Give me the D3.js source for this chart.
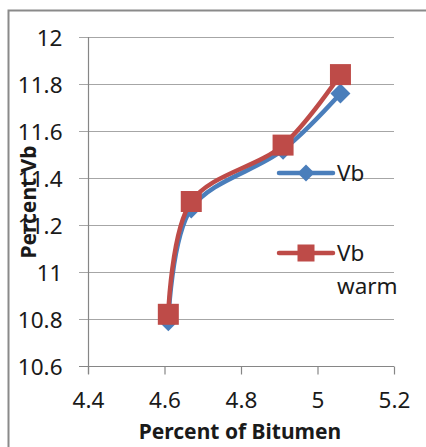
<!DOCTYPE html>
<html><head><meta charset="utf-8">
<script src="https://cdn.jsdelivr.net/npm/d3@7"></script>
<style>html,body{margin:0;padding:0;background:#fff;}svg{display:block;}</style>
</head><body>
<script>
const bitumen = [4.61, 4.67, 4.91, 5.06];
const vb = [10.79, 11.27, 11.52, 11.76];
const vbWarm = [10.82, 11.30, 11.54, 11.84];
const xTicks = [4.4, 4.6, 4.8, 5, 5.2];
const yTicks = [10.6, 10.8, 11, 11.2, 11.4, 11.6, 11.8, 12];
const seriesNames = ["Vb", "Vb warm"];

const W = 426, H = 447;
const svg = d3.select("body").append("svg").attr("width", W).attr("height", H);
const font = "'Noto Sans', 'Liberation Sans', sans-serif";

// outer border
svg.append("path").attr("d", `M8.5,${H} L8.5,10.5 L${W},10.5`).attr("fill","none").attr("stroke","#8a8a8a").attr("stroke-width",2);

const x = d3.scaleLinear().domain([4.4, 5.2]).range([88, 394]);
const y = d3.scaleLinear().domain([10.6, 12]).range([366, 37]);

// gridlines
svg.append("g").selectAll("line").data(yTicks).join("line")
  .attr("x1", 79).attr("x2", x(5.2)).attr("y1", d => Math.round(y(d))+0.5).attr("y2", d => Math.round(y(d))+0.5)
  .attr("stroke", "#a6a6a6").attr("stroke-width", 1.2);

// y axis
const yAxis = d3.axisLeft(y).tickValues(yTicks).tickSize(0).tickPadding(26).tickFormat(d3.format("~g"));
const gy = svg.append("g").attr("transform", "translate(88.5,0)").call(yAxis);
gy.select(".domain").attr("stroke", "#868686").attr("stroke-width", 1.2).attr("d", `M0,${y(12)}V${y(10.6)+8}`);
gy.selectAll("text").attr("font-family", font).attr("font-size", 22.5).attr("fill", "#1a1a1a").attr("dy", "0.36em");

// x axis
const xAxis = d3.axisBottom(x).tickValues(xTicks).tickSize(8).tickPadding(18).tickFormat(d3.format("~g"));
const gx = svg.append("g").attr("transform", `translate(0,${Math.round(y(10.6))+0.5})`).call(xAxis);
gx.select(".domain").attr("stroke", "#868686").attr("stroke-width", 1.2).attr("d", `M79,0H${x(5.2)}`);
gx.selectAll(".tick line").attr("stroke", "#868686").attr("stroke-width", 1.2);
gx.selectAll("text").attr("font-family", font).attr("font-size", 22.5).attr("fill", "#1a1a1a");

// axis titles
svg.append("text").attr("x", 240).attr("y", 439).attr("text-anchor", "middle")
  .attr("font-family", font).attr("font-weight", "bold").attr("font-size", 21).attr("fill", "#1a1a1a")
  .text("Percent of Bitumen");
svg.append("text").attr("transform", "translate(36,202) rotate(-90)").attr("text-anchor", "middle")
  .attr("font-family", font).attr("font-weight", "bold").attr("font-size", 21).attr("fill", "#1a1a1a")
  .text("Percent Vb");

const blue = "#4A7EBB", red = "#BE4B48";
const line = d3.line().x(d => x(d[0])).y(d => y(d[1])).curve(d3.curveCatmullRom.alpha(0.5));

const blueData = bitumen.map((b, i) => [b, vb[i]]);
const redData = bitumen.map((b, i) => [b, vbWarm[i]]);

function diamond(g, cx, cy, r, c) {
  g.append("path").attr("d", `M${cx},${cy-r}L${cx+r},${cy}L${cx},${cy+r}L${cx-r},${cy}Z`).attr("fill", c);
}

// blue series
svg.append("path").datum(blueData).attr("d", line).attr("fill", "none").attr("stroke", blue).attr("stroke-width", 4.5).attr("stroke-linejoin","round");
const gb = svg.append("g");
blueData.forEach(d => diamond(gb, x(d[0]), y(d[1]), 10, blue));

// red series
svg.append("path").datum(redData).attr("d", line).attr("fill", "none").attr("stroke", red).attr("stroke-width", 4.5).attr("stroke-linejoin","round");
svg.append("g").selectAll("rect").data(redData).join("rect")
  .attr("x", d => x(d[0]) - 10.5).attr("y", d => y(d[1]) - 10.5).attr("width", 21).attr("height", 21).attr("fill", red);

// legend
const lg = svg.append("g");
lg.append("line").attr("x1", 279).attr("x2", 333).attr("y1", 173).attr("y2", 173).attr("stroke", blue).attr("stroke-width", 4.5).attr("stroke-linecap","round");
diamond(lg, 306, 173, 8.5, blue);
lg.append("text").attr("x", 337).attr("y", 181).attr("font-family", font).attr("font-size", 22.5).attr("fill", "#1a1a1a").text(seriesNames[0]);
lg.append("line").attr("x1", 279).attr("x2", 333).attr("y1", 253).attr("y2", 253).attr("stroke", red).attr("stroke-width", 4.5).attr("stroke-linecap","round");
lg.append("rect").attr("x", 297.5).attr("y", 244.5).attr("width", 17).attr("height", 17).attr("fill", red);
const t2 = lg.append("text").attr("font-family", font).attr("font-size", 22.5).attr("fill", "#1a1a1a");
const parts = seriesNames[1].split(" ");
t2.append("tspan").attr("x", 337).attr("y", 261).text(parts[0]);
t2.append("tspan").attr("x", 337).attr("y", 294).text(parts[1]);
</script>
</body></html>
